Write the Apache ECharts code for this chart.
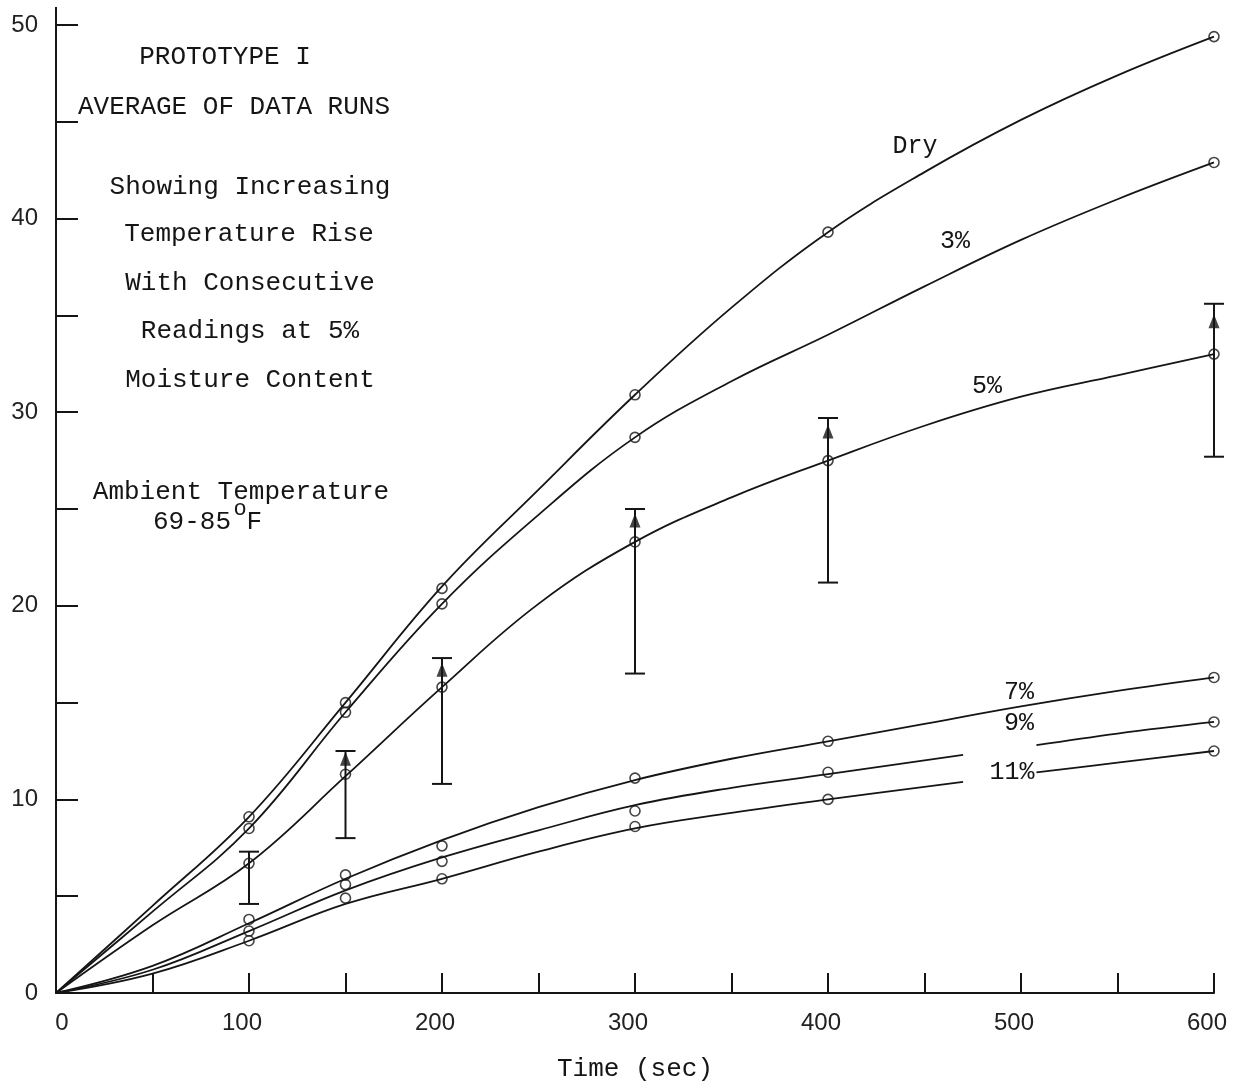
<!DOCTYPE html>
<html>
<head>
<meta charset="utf-8">
<script src="https://cdn.jsdelivr.net/npm/echarts@6/dist/echarts.min.js"></script>
<style>
  html, body { margin: 0; padding: 0; background: #fff; }
  #chart { width: 1237px; height: 1086px; }
</style>
</head>
<body>
<div id="chart"></div>
<script>
// ---- data ----
// measured points (open circles), time in sec, temperature rise
var dryPts   = [[100, 9.1], [150, 15.0], [200, 20.9], [300, 30.9], [400, 39.3], [600, 49.4]];
var pct3Pts  = [[100, 8.5], [150, 14.5], [200, 20.1], [300, 28.7], [600, 42.9]];
var pct5Pts  = [[100, 6.7], [150, 11.3], [200, 15.8], [300, 23.3], [400, 27.5], [600, 33.0]];
var pct7Pts  = [[100, 3.8], [150, 6.1], [200, 7.6], [300, 11.1], [400, 13.0], [600, 16.3]];
var pct9Pts  = [[100, 3.2], [150, 5.6], [200, 6.8], [300, 9.4], [400, 11.4], [600, 14.0]];
var pct11Pts = [[100, 2.7], [150, 4.9], [200, 5.9], [300, 8.6], [400, 10.0], [600, 12.5]];

// hand drawn fit curves
var fitTime = [0, 50, 100, 150, 200, 250, 300, 350, 400, 450, 500, 550, 600];
var fitDry  = [0, 4.5, 9.1, 15.0, 21.0, 26.0, 30.9, 35.4, 39.3, 42.4, 45.1, 47.4, 49.4];
var fit3    = [0, 4.2, 8.5, 14.5, 20.1, 24.7, 28.7, 31.6, 34.0, 36.5, 38.9, 41.0, 42.9];
var fit5    = [0, 3.5, 6.7, 11.2, 15.8, 20.1, 23.3, 25.6, 27.5, 29.3, 30.8, 31.9, 33.0];
var fit7    = [0, 1.4, 3.6, 5.9, 7.9, 9.6, 11.0, 12.1, 13.0, 13.9, 14.8, 15.6, 16.3];
// 9% and 11% curves are broken where the labels sit
var fitTimeWet = [0, 50, 100, 150, 200, 250, 300, 350, 400, 470, 488, 508, 550, 600];
var fit9    = [0, 1.2, 3.2, 5.3, 7.0, 8.4, 9.7, 10.6, 11.3, 12.3, null, 12.8, 13.4, 14.0];
var fit11   = [0, 1.0, 2.7, 4.6, 5.9, 7.3, 8.5, 9.3, 10.0, 10.9, null, 11.4, 11.9, 12.5];

// spread of consecutive readings at 5%: [time, low, high]
var spread5 = [[100, 4.6, 7.3], [150, 8.0, 12.5], [200, 10.8, 17.3], [300, 16.5, 25.0], [400, 21.2, 29.7], [600, 27.7, 35.6]];
// last reading (filled triangle)
var last5 = [[150, 12.1], [200, 16.7], [300, 24.4], [400, 29.0], [600, 34.7]];

var curveNames = ['Dry', '3%', '5%', '7%', '9%', '11%'];

function zip(xs, ys) {
  var out = [];
  for (var i = 0; i < xs.length; i++) out.push([xs[i], ys[i]]);
  return out;
}

var ink = '#151515';
var mono = '"Liberation Mono", "DejaVu Sans Mono", monospace';
var sans = '"Liberation Sans", Arial, sans-serif';

var chart = echarts.init(document.getElementById('chart'));

function curve(name, data) {
  return {
    name: name, type: 'line', data: data, smooth: 0.4,
    showSymbol: false, symbol: 'none', silent: true,
    lineStyle: { color: ink, width: 1.8 }, z: 2
  };
}
function dots(name, data) {
  return {
    name: name, type: 'scatter', data: data, symbol: 'circle', symbolSize: 10,
    itemStyle: { color: 'rgba(255,255,255,0)', borderColor: ink, borderWidth: 1.6 }, z: 3
  };
}

var series = [
  curve('Dry', zip(fitTime, fitDry)),
  curve('3%', zip(fitTime, fit3)),
  curve('5%', zip(fitTime, fit5)),
  curve('7%', zip(fitTime, fit7)),
  curve('9%', zip(fitTimeWet, fit9)),
  curve('11%', zip(fitTimeWet, fit11)),
  dots('Dry', dryPts),
  dots('3%', pct3Pts),
  dots('5%', pct5Pts),
  dots('7%', pct7Pts),
  dots('9%', pct9Pts),
  dots('11%', pct11Pts),
  {
    name: 'spread', type: 'custom', data: spread5, z: 4,
    encode: { x: 0, y: [1, 2] },
    renderItem: function (params, api) {
      var t = api.value(0);
      var lo = api.coord([t, api.value(1)]);
      var hi = api.coord([t, api.value(2)]);
      var w = 10;
      var st = { stroke: ink, lineWidth: 2 };
      return {
        type: 'group',
        children: [
          { type: 'line', shape: { x1: lo[0], y1: lo[1], x2: hi[0], y2: hi[1] }, style: st },
          { type: 'line', shape: { x1: hi[0] - w, y1: hi[1], x2: hi[0] + w, y2: hi[1] }, style: st },
          { type: 'line', shape: { x1: lo[0] - w, y1: lo[1], x2: lo[0] + w, y2: lo[1] }, style: st }
        ]
      };
    }
  },
  {
    name: 'last reading', type: 'scatter', data: last5, symbol: 'triangle',
    symbolSize: [11, 14], itemStyle: { color: ink }, z: 5
  }
];

// labels on curves and the text block
var curveLabelPos = [[915, 146], [955, 241], [987, 386], [1019, 692], [1019, 723], [1012, 772]];
var noteLines = ['PROTOTYPE I', 'AVERAGE OF DATA RUNS', 'Showing Increasing', 'Temperature Rise',
  'With Consecutive', 'Readings at 5%', 'Moisture Content', 'Ambient Temperature'];
var notePos = [[225, 57], [234, 107], [250, 187], [249, 234], [250, 283], [250, 331], [250, 380], [241, 492]];

var graphics = [];
for (var i = 0; i < noteLines.length; i++) {
  graphics.push({
    type: 'text', x: notePos[i][0], y: notePos[i][1], silent: true,
    style: { text: noteLines[i], font: '26px ' + mono, fill: ink, align: 'center', verticalAlign: 'middle' }
  });
}
graphics.push({
  type: 'text', x: 153, y: 522, silent: true,
  style: { text: '69-85 F', font: '26px ' + mono, fill: ink, align: 'left', verticalAlign: 'middle' }
});
graphics.push({
  type: 'text', x: 240, y: 509, silent: true,
  style: { text: 'o', font: '22px ' + mono, fill: ink, align: 'center', verticalAlign: 'middle' }
});
for (var j = 0; j < curveNames.length; j++) {
  graphics.push({
    type: 'text', x: curveLabelPos[j][0], y: curveLabelPos[j][1], silent: true,
    style: { text: curveNames[j], font: '25px ' + mono, fill: ink, align: 'center', verticalAlign: 'middle' }
  });
}
// axis line runs a little past the top tick
graphics.push({
  type: 'line', silent: true,
  shape: { x1: 56, y1: 7, x2: 56, y2: 26 },
  style: { stroke: ink, lineWidth: 2 }
});

var option = {
  backgroundColor: '#fff',
  animation: false,
  grid: { left: 56, right: 23, top: 25, bottom: 93, containLabel: false, outerBoundsMode: 'none' },
  xAxis: {
    type: 'value', min: 0, max: 600, interval: 50,
    name: 'Time (sec)', nameLocation: 'middle', nameGap: 63,
    nameTextStyle: { fontFamily: mono, fontSize: 26, color: ink },
    axisLine: { show: true, onZero: false, lineStyle: { color: ink, width: 2 } },
    axisTick: { show: true, inside: true, length: 20, lineStyle: { color: ink, width: 2 } },
    axisLabel: {
      margin: 18, fontFamily: sans, fontSize: 24, color: '#222',
      formatter: function (v) {
        if (v === 0) return '{z|0}';
        return v % 100 === 0 ? '{n|' + v + '}' : '';
      },
      rich: {
        z: { fontFamily: sans, fontSize: 24, color: '#222', padding: [0, 0, 0, 12] },
        n: { fontFamily: sans, fontSize: 24, color: '#222', padding: [0, 14, 0, 0] }
      }
    },
    splitLine: { show: false }
  },
  yAxis: {
    type: 'value', min: 0, max: 50, interval: 5,
    axisLine: { show: true, onZero: false, lineStyle: { color: ink, width: 2 } },
    axisTick: { show: true, inside: true, length: 22, lineStyle: { color: ink, width: 2 } },
    axisLabel: {
      margin: 18, fontFamily: sans, fontSize: 24, color: '#222',
      formatter: function (v) { return v % 10 === 0 ? String(v) : ''; }
    },
    splitLine: { show: false }
  },
  graphic: graphics,
  series: series
};

chart.setOption(option);
</script>
</body>
</html>
